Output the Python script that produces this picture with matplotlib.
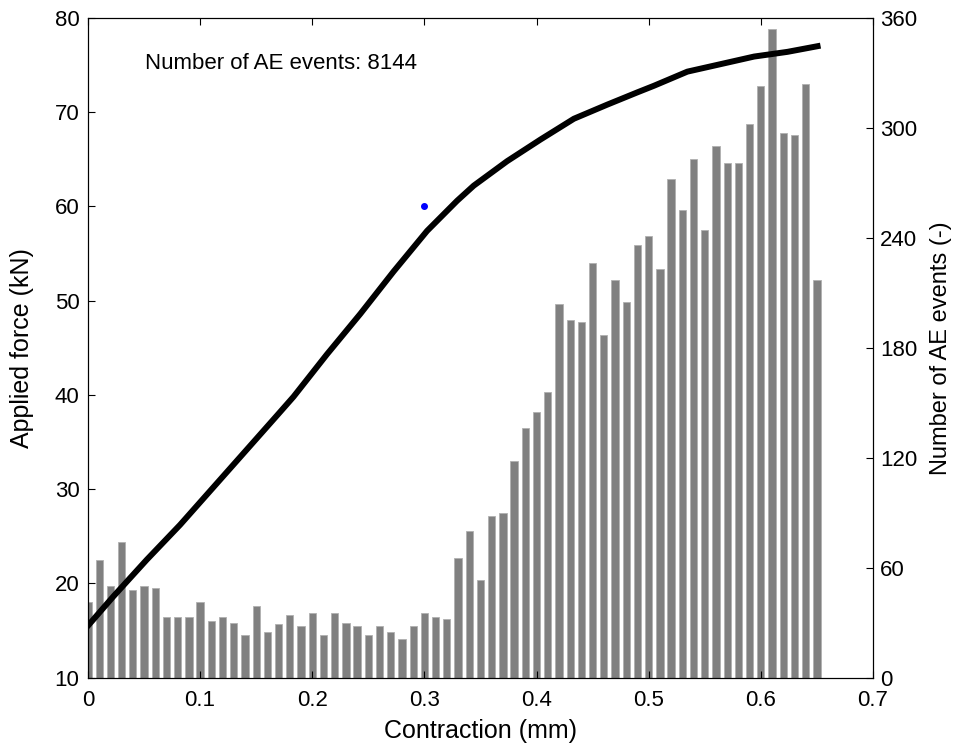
import matplotlib
matplotlib.use('Agg')
import matplotlib.pyplot as plt
import numpy as np

plt.rcParams['font.family'] = ['Liberation Sans', 'DejaVu Sans']

# AE event counts per 0.01 mm contraction bin
bin_x = np.round(np.arange(0, 0.651, 0.01), 2)
ae_counts = [41, 64, 50, 74, 48, 50, 49, 33, 33, 33,
             41, 31, 33, 30, 23, 39, 25, 29, 34, 28,
             35, 23, 35, 30, 28, 23, 28, 25, 21, 28,
             35, 33, 32, 65, 80, 53, 88, 90, 118, 136,
             145, 156, 204, 195, 194, 226, 187, 217, 205, 236,
             241, 223, 272, 255, 283, 244, 290, 281, 281, 302,
             323, 354, 297, 296, 324, 217]

# force-contraction curve
contraction = [0.0, 0.0226, 0.0524, 0.0821, 0.1119, 0.1417, 0.1685, 0.1833,
               0.2131, 0.2429, 0.2726, 0.3024, 0.3292, 0.344, 0.3738, 0.4036,
               0.4333, 0.4631, 0.4899, 0.5047, 0.5345, 0.5643, 0.594, 0.6238,
               0.6506]
force = [15.5, 18.6, 22.5, 26.2, 30.2, 34.2, 37.8, 39.8,
         44.3, 48.6, 53.1, 57.4, 60.6, 62.2, 64.8, 67.1,
         69.3, 70.8, 72.1, 72.8, 74.3, 75.1, 75.9, 76.4,
         77.0]

fig = plt.figure(figsize=(9.55, 7.53), dpi=100)
ax = fig.add_axes([0.0921, 0.1002, 0.822, 0.876])
ax2 = ax.twinx()

ax2.bar(bin_x, ae_counts, width=0.0065, color='#808080', edgecolor='#b0b0b0',
        linewidth=0.6)
ax2.set_ylim(0, 360)
ax2.set_yticks(np.arange(0, 361, 60))
ax2.set_ylabel('Number of AE events (-)', fontsize=17, labelpad=9)

ax.set_zorder(ax2.get_zorder() + 1)
ax.patch.set_visible(False)
ax.plot(contraction, force, 'k-', lw=4.3, solid_joinstyle='round')
ax.plot([0.3], [60.0], 'o', color='#0000ff', ms=4)
ax.text(0.051, 75.2, 'Number of AE events: 8144', fontsize=16, va='center')

ax.set_xlim(0, 0.7)
ax.set_ylim(10, 80)
ax.set_xticks(np.arange(0, 0.71, 0.1))
ax.set_xticklabels(['0', '0.1', '0.2', '0.3', '0.4', '0.5', '0.6', '0.7'])
ax.set_yticks(np.arange(10, 81, 10))
ax.set_xlabel('Contraction (mm)', fontsize=18, labelpad=6)
ax.set_ylabel('Applied force (kN)', fontsize=18, labelpad=15)

ax.tick_params(axis='x', direction='in', labelsize=16, length=5, top=True, pad=9)
ax.tick_params(axis='y', direction='in', labelsize=16, length=5, pad=6)
ax2.tick_params(direction='in', labelsize=16, length=5, pad=5)

plt.savefig('out.png', dpi=100)
